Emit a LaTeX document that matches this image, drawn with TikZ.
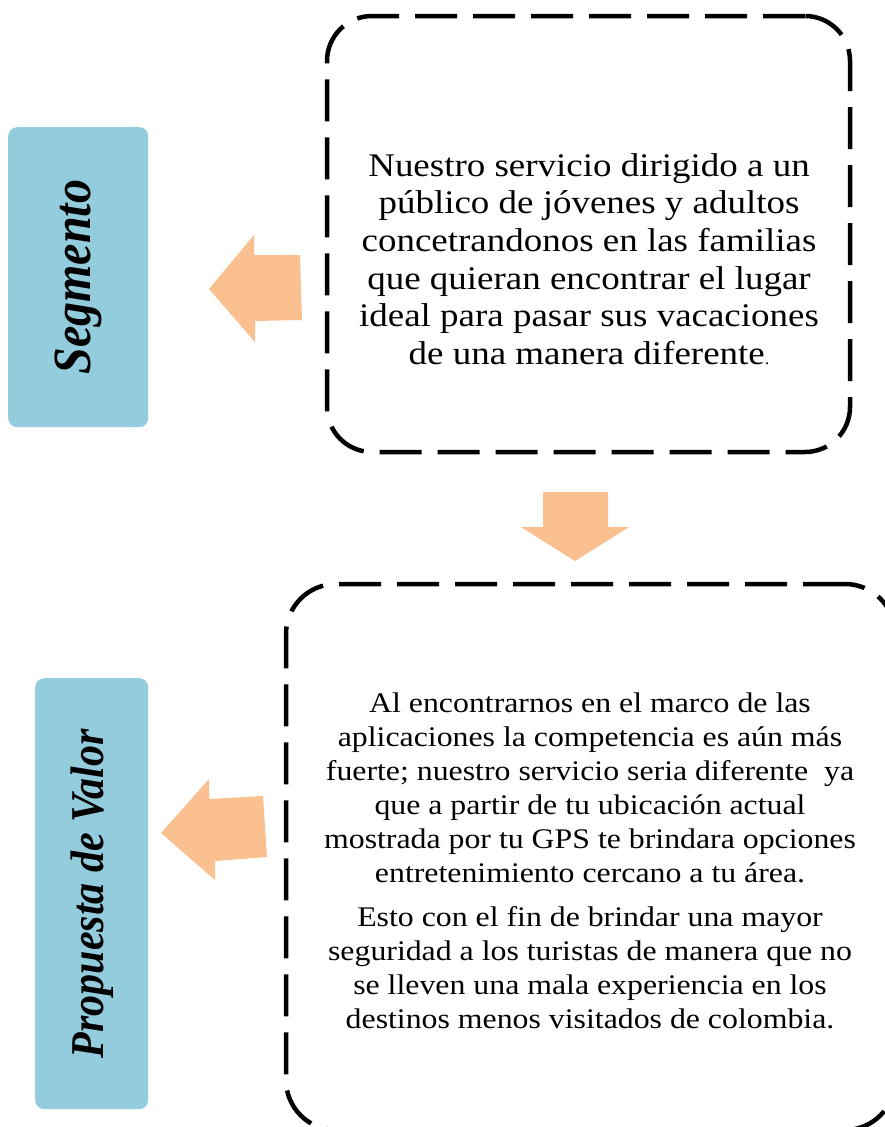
\documentclass[tikz,border=0pt]{standalone}
\usepackage{fontspec}
\setmainfont{Liberation Serif}[FakeStretch=1.12]
\newfontfamily\plainserif{Liberation Serif}
\definecolor{segblue}{HTML}{93CDDD}
\definecolor{arroworange}{HTML}{FAC090}
\begin{document}
\begin{tikzpicture}[x=1pt,y=-1pt,
  dashbox/.style={draw=black, line width=4.5pt, dash pattern=on 42pt off 16pt, inner sep=0pt},
  titlebox/.style={fill=segblue, rounded corners=9pt, inner sep=0pt, anchor=north west},
  blockarrow/.style={fill=arroworange, draw=none},
  bodytext/.style={align=center, inner sep=0pt, text=black},
  titletext/.style={rotate=90, inner sep=0pt, text=black}]
\useasboundingbox (0,0) rectangle (884,1127);
\fill[white] (0,0) rectangle (884,1127);

% title boxes
\node[titlebox, minimum width=140pt, minimum height=300pt] (segbox) at (8,127) {};
\node[titlebox, minimum width=113pt, minimum height=431pt] (propbox) at (35,678) {};
\node[titletext] (segtext) at (segbox.center)
  {\scalebox{1}[1.12]{\plainserif\bfseries\itshape\fontsize{48}{48}\selectfont Segmento}};
\node[titletext] (proptext) at (propbox.center)
  {\scalebox{1}[1.12]{\plainserif\bfseries\itshape\fontsize{42}{42}\selectfont Propuesta de Valor}};

% dashed boxes
\node[dashbox, rounded corners=45pt, minimum width=523pt, minimum height=436pt] (topbox) at (588.5,234) {};
\node[dashbox, rounded corners=50pt, minimum width=609pt, minimum height=546pt] (botbox) at (590.5,857) {};

% texts
\node[bodytext, font=\fontsize{33}{37.6}\selectfont] (toptext) at (589,259)
  {Nuestro servicio dirigido a un\\
   público de jóvenes y adultos\\
   concetrandonos en las familias\\
   que quieran encontrar el lugar\\
   ideal para pasar sus vacaciones\\
   de una manera diferente{\fontsize{16}{16}\selectfont.}};
\node[bodytext, font=\fontsize{28.4}{34}\selectfont] (bottext) at (590,861)
  {Al encontrarnos en el marco de las\\
   aplicaciones la competencia es aún más\\
   fuerte; nuestro servicio seria diferente\ \ ya\\
   que a partir de tu ubicación actual\\
   mostrada por tu GPS te brindara opciones\\
   entretenimiento cercano a tu área.\\[10pt]
   Esto con el fin de brindar una mayor\\
   seguridad a los turistas de manera que no\\
   se lleven una mala experiencia en los\\
   destinos menos visitados de colombia.};

% block arrows
\fill[blockarrow] (209,289) -- (254,235) -- (254,255) -- (300,255) -- (302,320)
  -- (255,321) -- (255,342) -- cycle;
\fill[blockarrow] (161,833) -- (209,779) -- (209,799) -- (263,796) -- (267,857)
  -- (215,861) -- (215,880) -- cycle;
\fill[blockarrow] (543,492) -- (608,492) -- (608,527) -- (629,527) -- (575,561)
  -- (521,527) -- (543,527) -- cycle;
\end{tikzpicture}
\end{document}
